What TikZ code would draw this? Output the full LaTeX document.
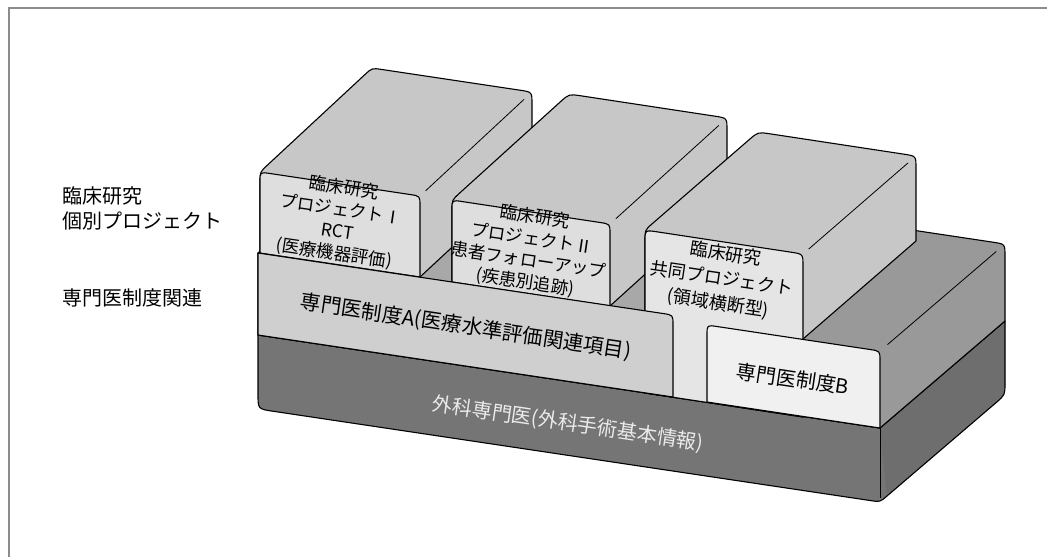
\documentclass[tikz,border=0pt]{standalone}
\usepackage{fontspec}
\newfontfamily\jp{Noto Sans CJK JP}
\usetikzlibrary{calc}
\newcommand\rnd[4]{-- ($(#2)!#4!(#1)$) .. controls (#2) .. ($(#2)!#4!(#3)$)}
\definecolor{cBase}{gray}{0.46}
\definecolor{cBside}{gray}{0.43}
\definecolor{cBtop}{gray}{0.60}
\definecolor{cAtop}{gray}{0.66}
\definecolor{cAfront}{gray}{0.81}
\definecolor{cPtop}{gray}{0.78}
\definecolor{cPfront}{gray}{0.87}
\definecolor{cKfront}{gray}{0.90}
\definecolor{cBfront}{gray}{0.94}
\definecolor{cFrame}{gray}{0.55}
\tikzset{
  outl/.style={draw=black, line width=1.1pt, line join=round},
  ridgeline/.style={draw=black, line width=0.8pt},
  lbl/.style={font=\jp\fontsize{20}{25}\selectfont, inner sep=0pt},
  boxtxt/.style={align=center, rotate=-8.5, inner sep=0pt},
}
\begin{document}
\begin{tikzpicture}[x=1pt,y=-1pt]
\useasboundingbox (0,0) rectangle (1047,557);
\fill[white] (0,0) rectangle (1047,557);
% frame
\coordinate (frBL) at (9,557); \coordinate (frTL) at (9,8); \coordinate (frTR) at (1047,8);
\draw[cFrame, line width=1.3pt] (frBL) -- (frTL) -- (frTR);

% ---------- coordinates ----------
% base
\coordinate (baFTL) at (258,335); \coordinate (baFTR) at (880,428);
\coordinate (baFBR) at (880,502); \coordinate (baFBL) at (258,409);
\coordinate (baBTR) at (1005,321); \coordinate (baBBR) at (1005,395);
% B
\coordinate (bFTL) at (707,325); \coordinate (bFTR) at (880,351);
\coordinate (bFBR) at (880,428); \coordinate (bFBL) at (707,402);
\coordinate (bBTL) at (832,218); \coordinate (bBTR) at (1005,244);
\coordinate (bBBR) at (1005,321);
% A
\coordinate (aFTL) at (258,253); \coordinate (aFTR) at (673,315);
\coordinate (aFBR) at (673,397); \coordinate (aFBL) at (258,335);
\coordinate (aBTL) at (383,146); \coordinate (aBTR) at (798,208);
\coordinate (aBBR) at (798,290);
% project I
\coordinate (pAFTL) at (260,172); \coordinate (pAFTR) at (420,196);
\coordinate (pAFBR) at (420,277); \coordinate (pAFBL) at (260,253);
\coordinate (pABTL) at (372,68); \coordinate (pABTR) at (532,92);
\coordinate (pABBR) at (532,173);
% project II
\coordinate (pBFTL) at (452,200); \coordinate (pBFTR) at (610,224);
\coordinate (pBFBR) at (610,306); \coordinate (pBFBL) at (452,282);
\coordinate (pBBTL) at (569,94); \coordinate (pBBTR) at (727,118);
\coordinate (pBBBR) at (727,200);
% joint project
\coordinate (kFTL) at (645,230); \coordinate (kFTR) at (803,254);
\coordinate (kFBR) at (803,417); \coordinate (kFBL) at (645,393);
\coordinate (kBTL) at (758,132); \coordinate (kBTR) at (916,156);
\coordinate (kBBR) at (916,241); \coordinate (kSB) at (803,339);

% ---------- base ----------
\path[fill=cBase] (baFTL) -- (baFTR) -- (baBTR)
  \rnd{baBTR}{baBBR}{baFBR}{12pt} \rnd{baBBR}{baFBR}{baFBL}{9pt}
  \rnd{baFBR}{baFBL}{baFTL}{15pt} -- cycle;
\path[fill=cBside] (baFTR) -- (baBTR) \rnd{baBTR}{baBBR}{baFBR}{12pt}
  -- ($(baFBR)!9pt!(baBBR)$) -- cycle;
\path[outl] (baFTL) -- (baFTR) -- (baBTR)
  \rnd{baBTR}{baBBR}{baFBR}{12pt} \rnd{baBBR}{baFBR}{baFBL}{9pt}
  \rnd{baFBR}{baFBL}{baFTL}{15pt} -- cycle;
\draw[line width=0.6pt] (baFTR) -- ($(baFBR)!4pt!(baFTR)$);

% ---------- B top/side ----------
\path[outl, fill=cBtop] (bFBL) -- (bFTL) -- (bBTL)
  \rnd{bBTL}{bBTR}{bBBR}{12pt} -- (bBBR) -- (bFBR) -- cycle;
\draw[ridgeline] ($(bFTR)!0.06!(bBTR)$) -- ($(bFTR)!0.93!(bBTR)$);

% ---------- A top ----------
\path[outl, fill=cAtop] (aFBL) -- (aFTL) -- (aBTL) -- (aBTR) -- (aBBR) -- (aFBR) -- cycle;

% ---------- project I ----------
\path[outl, fill=cPtop] (pAFBL) \rnd{pAFBL}{pAFTL}{pABTL}{10pt}
  \rnd{pAFTL}{pABTL}{pABTR}{10pt} \rnd{pABTL}{pABTR}{pABBR}{12pt}
  -- (pABBR) -- (pAFBR) -- cycle;
\draw[ridgeline] ($(pAFTR)!0.05!(pABTR)$) -- ($(pAFTR)!0.93!(pABTR)$);
\path[outl, fill=cPfront] (pAFBL) \rnd{pAFBL}{pAFTL}{pAFTR}{10pt}
  \rnd{pAFTL}{pAFTR}{pAFBR}{10pt} -- (pAFBR) -- cycle;

% ---------- project II ----------
\path[outl, fill=cPtop] (pBFBL) \rnd{pBFBL}{pBFTL}{pBBTL}{10pt}
  \rnd{pBFTL}{pBBTL}{pBBTR}{12pt} \rnd{pBBTL}{pBBTR}{pBBBR}{12pt}
  -- (pBBBR) -- (pBFBR) -- cycle;
\draw[ridgeline] ($(pBFTR)!0.05!(pBBTR)$) -- ($(pBFTR)!0.93!(pBBTR)$);
\path[outl, fill=cPfront] (pBFBL) \rnd{pBFBL}{pBFTL}{pBFTR}{10pt}
  \rnd{pBFTL}{pBFTR}{pBFBR}{10pt} -- (pBFBR) -- cycle;

% ---------- joint project ----------
\path[outl, fill=cPtop] (kFBL) \rnd{kFBL}{kFTL}{kBTL}{10pt}
  \rnd{kFTL}{kBTL}{kBTR}{12pt} \rnd{kBTL}{kBTR}{kBBR}{12pt}
  -- (kBBR) -- (kSB) -- (kFBR) -- cycle;
\draw[ridgeline] ($(kFTR)!0.05!(kBTR)$) -- ($(kFTR)!0.93!(kBTR)$);
\path[outl, fill=cKfront] (kFBL) \rnd{kFBL}{kFTL}{kFTR}{12pt}
  \rnd{kFTL}{kFTR}{kFBR}{12pt} -- (kFBR) -- cycle;

% ---------- A front ----------
\path[outl, fill=cAfront] (aFBL) -- (aFTL) \rnd{aFTL}{aFTR}{aFBR}{10pt}
  -- (aFBR) -- cycle;

% ---------- B front ----------
\path[outl, fill=cBfront] (bFBL) \rnd{bFBL}{bFTL}{bFTR}{10pt}
  \rnd{bFTL}{bFTR}{bFBR}{10pt} -- (bFBR) -- cycle;

% ---------- texts ----------
\node[lbl, anchor=base west] (lblA1) at (62,203) {臨床研究};
\node[lbl, anchor=base west] (lblA2) at (62,228) {個別プロジェクト};
\node[lbl, anchor=base west] (lblB) at (62,305) {専門医制度関連};

\node[boxtxt, font=\jp\fontsize{17.5}{22}\selectfont] (tPA) at (339,221)
  {臨床研究\\プロジェクトⅠ\\RCT\\(医療機器評価)};
\node[boxtxt, font=\jp\fontsize{17.5}{22}\selectfont] (tPB) at (530,250)
  {臨床研究\\プロジェクトⅡ\\患者フォローアップ\\(疾患別追跡)};
\node[boxtxt, font=\jp\fontsize{18}{25}\selectfont] (tK) at (722,279)
  {臨床研究\\共同プロジェクト\\(領域横断型)};
\node[boxtxt, font=\jp\fontsize{20.5}{24}\selectfont] (tA) at (466,327)
  {専門医制度A(医療水準評価関連項目)};
\node[boxtxt, font=\jp\fontsize{20}{24}\selectfont] (tB) at (793,379)
  {専門医制度B};
\node[boxtxt, font=\jp\fontsize{20}{24}\selectfont, text=white!92!black] (tBase) at (568,424)
  {外科専門医(外科手術基本情報)};
\end{tikzpicture}
\end{document}
